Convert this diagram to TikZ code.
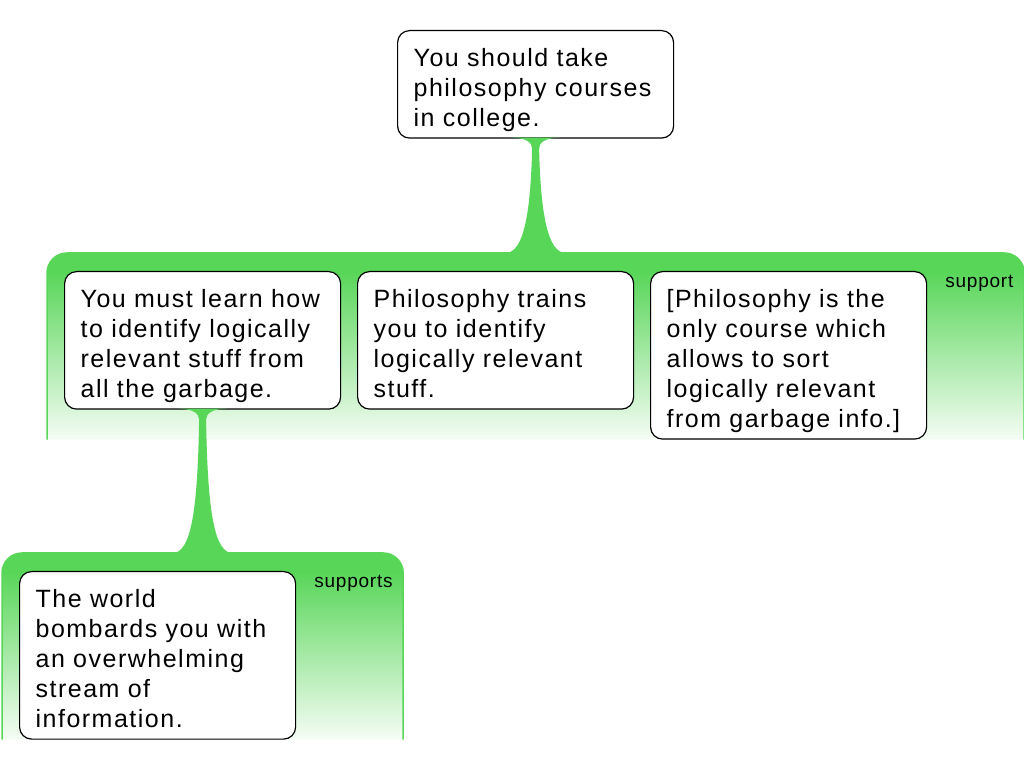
\documentclass[tikz,border=0pt]{standalone}
\usepackage{fontspec}
\newfontfamily\argfont[LetterSpace=6]{Liberation Sans}
\newfontfamily\linkfont[LetterSpace=4]{Liberation Sans}
\usetikzlibrary{positioning,calc,backgrounds}
\definecolor{argreen}{RGB}{88,214,88}
\pgfdeclareverticalshading{argfade}{100bp}{color(0bp)=(white); color(25bp)=(white!94!argreen); color(70bp)=(argreen); color(100bp)=(argreen)}
\newcommand\supportlink[2]{%
  \fill[argreen] ($(#1.south)+(-25,1)$)
    .. controls ($(#1.south)+(-9,1)$) and ($(#1.south)+(-3.5,-4)$) .. ($(#1.south)+(-3.5,-10)$)
    .. controls ($(#2)+(-5,40)$) and ($(#2)+(-12,0)$) .. ($(#2)+(-30,0)$)
    -- ($(#2)+(30,0)$)
    .. controls ($(#2)+(12,0)$) and ($(#2)+(5,40)$) .. ($(#1.south)+(3.5,-10)$)
    .. controls ($(#1.south)+(3.5,-4)$) and ($(#1.south)+(9,1)$) .. ($(#1.south)+(25,1)$) -- cycle;}
\tikzset{
  claim/.style={draw, line width=1.2pt, rounded corners=12pt, fill=white, anchor=north west,
    text width=244pt, inner xsep=16pt, inner ysep=0pt, align=left,
    font=\argfont\fontsize{25pt}{30pt}\selectfont,
    execute at begin node=\rule{0pt}{36pt},
    execute at end node=\rule[-11.5pt]{0pt}{11.5pt}},
  linklabel/.style={anchor=base west, inner sep=0pt, font=\linkfont\fontsize{19pt}{22pt}\selectfont},
  grpfill/.style={shading=argfade, rounded corners=20pt},
  grpedge/.style={draw=argreen, line width=1.5pt, rounded corners=20pt}
}
\begin{document}
\begin{tikzpicture}[x=1pt,y=1pt]
  \useasboundingbox (0,0) rectangle (1024,768);
  \node[claim] (main) at (397,738) {You should take\\philosophy courses\\in college.};
  \node[claim] (learn) at (64,497) {You must learn how\\to identify logically\\relevant stuff from\\all the garbage.};
  \node[claim, below right=0pt and 15.8pt of learn.north east] (trains) {Philosophy trains\\you to identify\\logically relevant\\stuff.};
  \node[claim, below right=0pt and 15.8pt of trains.north east] (only) {[Philosophy is the\\only course which\\allows to sort\\logically relevant\\from garbage info.]};
  \node[claim] (world) at (19,197) {The world\\bombards you with\\an overwhelming\\stream of\\information.};
  \node[linklabel] (lab1) at ($(only.north east)+(18,-16.5)$) {support};
  \node[linklabel] (lab2) at ($(world.north east)+(18,-16.5)$) {supports};
  % reason groups
  \coordinate (g1nw) at ($(learn.north west)+(-17,18)$);
  \coordinate (g1se) at ($(only.south east)+(97,0)$);
  \coordinate (g2nw) at ($(world.north west)+(-17,18)$);
  \coordinate (g2se) at ($(world.south east)+(107,0)$);
  \begin{scope}[on background layer]
    \shade[grpfill] (g1nw |- g1se) -- (g1nw) -- (g1se |- g1nw) -- (g1se);
    \draw[grpedge] (g1nw |- g1se) -- (g1nw) -- (g1se |- g1nw) -- (g1se);
    \shade[grpfill] (g2nw |- g2se) -- (g2nw) -- (g2se |- g2nw) -- (g2se);
    \draw[grpedge] (g2nw |- g2se) -- (g2nw) -- (g2se |- g2nw) -- (g2se);
  \end{scope}
  % links
  \coordinate (j1) at (main.south |- g1nw);
  \coordinate (j2) at (learn.south |- g2nw);
  \supportlink{main}{j1}
  \supportlink{learn}{j2}
\end{tikzpicture}
\end{document}
